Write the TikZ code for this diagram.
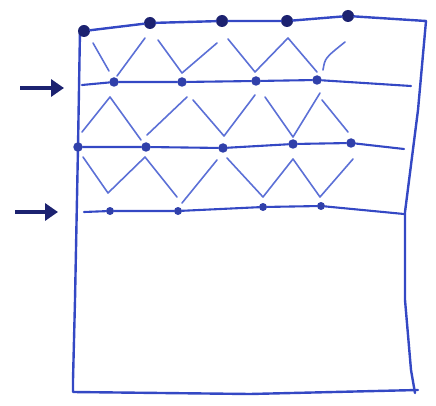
\documentclass[tikz,border=0pt]{standalone}
\usetikzlibrary{arrows.meta}
\definecolor{ink}{RGB}{52,72,196}
\definecolor{zigc}{RGB}{92,112,214}
\definecolor{dotc}{RGB}{48,64,170}
\definecolor{dotdark}{RGB}{28,34,112}
\begin{document}
\begin{tikzpicture}[x=1pt,y=-1pt,
  frame/.style={draw=ink, line width=2.4pt, line cap=round, line join=round},
  rule/.style={draw=ink, line width=2.1pt, line cap=round},
  zig/.style={draw=zigc, line width=1.6pt, line cap=round, line join=round},
  bigdot/.style={circle, fill=dotdark, inner sep=0pt, minimum size=12pt},
  dotn/.style={circle, fill=dotc, inner sep=0pt, minimum size=9.5pt},
  arrowin/.style={draw=dotdark, line width=4.5pt, -{Triangle[length=13pt,width=17pt]}}]
\useasboundingbox (0,0) rectangle (436,406);
% frame corners
\coordinate (tl) at (80,30);
\coordinate (tr) at (426,21);
\coordinate (br) at (415,393);
\coordinate (bl) at (73,392);
% frame
\draw[frame] (tr) -- (418,110) -- (405,212) -- (405,300) -- (411,370) -- (br);
\draw[frame] (tl) -- (78,147) -- (75,300) -- (73,380) -- (bl) -- (250,394) -- (418,390);
% top dots
\node[bigdot] (t1) at (84,31) {};
\node[bigdot] (t2) at (150,23) {};
\node[bigdot] (t3) at (222,21) {};
\node[bigdot] (t4) at (287,21) {};
\node[bigdot] (t5) at (348,16) {};
\draw[frame] (t1) -- (t2) -- (t3) -- (t4) -- (t5) -- (tr);
% row 1
\coordinate (a0) at (82,85);
\coordinate (a5) at (411,86);
\node[dotn] (a1) at (114,82) {};
\node[dotn] (a2) at (182,82) {};
\node[dotn] (a3) at (256,81) {};
\node[dotn] (a4) at (317,80) {};
\draw[rule] (a0) -- (a1) -- (a2) -- (a3) -- (a4) -- (a5);
% row 2
\coordinate (b5) at (404,149);
\node[dotn] (b0) at (78,147) {};
\node[dotn] (b1) at (146,147) {};
\node[dotn] (b2) at (223,148) {};
\node[dotn] (b3) at (293,144) {};
\node[dotn] (b4) at (351,143) {};
\draw[rule] (b0) -- (b1) -- (b2) -- (b3) -- (b4) -- (b5);
% row 3
\coordinate (c0) at (84,212);
\coordinate (c5) at (404,214);
\node[dotn, minimum size=8pt] (c1) at (110,211) {};
\node[dotn, minimum size=8pt] (c2) at (178,211) {};
\node[dotn, minimum size=8pt] (c3) at (263,207) {};
\node[dotn, minimum size=8pt] (c4) at (321,206) {};
\draw[rule] (c0) -- (c1) -- (c2) -- (c3) -- (c4) -- (c5);
% zigzag band 1
\draw[zig] (93,43) -- (109,71);
\draw[zig] (117,76) -- (145,38);
\draw[zig] (158,40) -- (182,73) -- (217,43);
\draw[zig] (228,39) -- (255,72) -- (288,38) -- (317,72);
\draw[zig] (323,70) .. controls (325,58) .. (345,42);
% zigzag band 2
\draw[zig] (82,132) -- (110,97) -- (141,140);
\draw[zig] (147,135) -- (187,97);
\draw[zig] (193,100) -- (224,136) -- (255,95);
\draw[zig] (265,97) -- (293,137) -- (320,93);
\draw[zig] (322,100) -- (348,132);
% zigzag band 3
\draw[zig] (83,157) -- (108,193) -- (145,157) -- (177,197);
\draw[zig] (182,203) -- (217,160);
\draw[zig] (227,158) -- (263,197) -- (293,159) -- (320,197) -- (353,159);
% arrows
\coordinate (p1) at (20,88);
\coordinate (q1) at (64,88);
\coordinate (p2) at (15,212);
\coordinate (q2) at (58,212);
\draw[arrowin] (p1) -- (q1);
\draw[arrowin] (p2) -- (q2);
\end{tikzpicture}
\end{document}
